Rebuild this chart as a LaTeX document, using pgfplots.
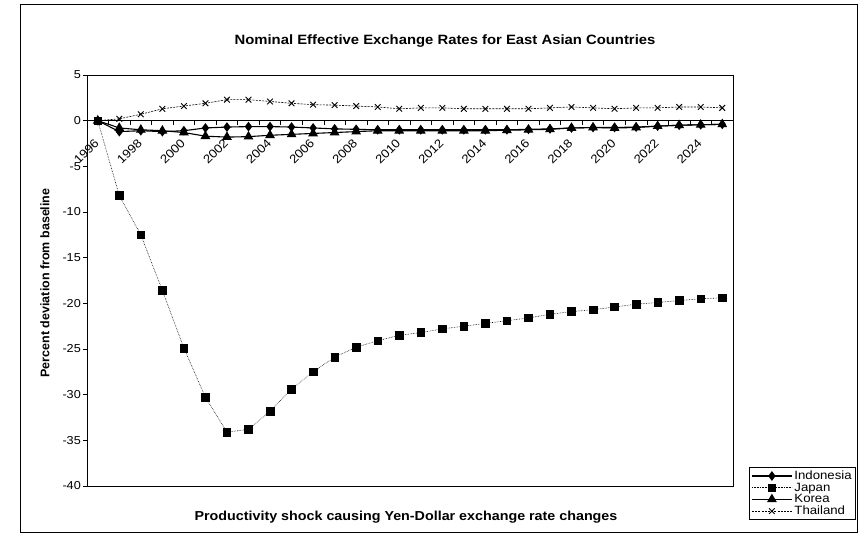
\documentclass[border=0pt]{standalone}
\usepackage{pgfplots}
\pgfplotsset{compat=1.18}
\usepackage{pgfplotstable}
\usepackage{fontspec}
\setmainfont{Liberation Sans}[FakeStretch=1.1]
\newfontfamily\ylfont{Liberation Sans}

\pgfplotstableread{
year indo japan korea thai
1996 0 0 0 0
1997 -1.2 -8.2 -0.8 0.2
1998 -1.1 -12.5 -1.0 0.7
1999 -1.2 -18.6 -1.1 1.3
2000 -1.1 -24.9 -1.3 1.6
2001 -0.8 -30.3 -1.7 1.9
2002 -0.7 -34.1 -1.8 2.3
2003 -0.65 -33.8 -1.75 2.3
2004 -0.65 -31.8 -1.6 2.1
2005 -0.7 -29.4 -1.5 1.9
2006 -0.8 -27.5 -1.4 1.75
2007 -0.9 -25.9 -1.3 1.7
2008 -0.95 -24.8 -1.2 1.6
2009 -1.0 -24.1 -1.1 1.5
2010 -1.0 -23.5 -1.1 1.3
2011 -1.0 -23.2 -1.1 1.4
2012 -1.0 -22.8 -1.1 1.4
2013 -1.0 -22.5 -1.1 1.3
2014 -1.0 -22.2 -1.1 1.3
2015 -1.0 -21.9 -1.05 1.3
2016 -0.95 -21.6 -1.0 1.3
2017 -0.9 -21.2 -0.95 1.4
2018 -0.8 -20.9 -0.8 1.5
2019 -0.75 -20.7 -0.75 1.4
2020 -0.75 -20.4 -0.8 1.3
2021 -0.7 -20.1 -0.75 1.4
2022 -0.6 -19.9 -0.6 1.4
2023 -0.5 -19.7 -0.5 1.5
2024 -0.45 -19.5 -0.45 1.5
2025 -0.4 -19.4 -0.4 1.4
}\data

\begin{document}
\begin{tikzpicture}[x=1pt,y=1pt]
\path (0,0) rectangle (866,534);
\draw[line width=0.8pt] (20,2) rectangle (857,530);
\node[font=\bfseries\fontsize{13.5}{15}\selectfont] at (445,493) {Nominal Effective Exchange Rates for East Asian Countries};
\node[font=\bfseries\fontsize{13}{15}\selectfont] at (406,17) {Productivity shock causing Yen-Dollar exchange rate changes};
\begin{axis}[
  at={(87pt,48pt)}, anchor=south west,
  width=646pt, height=411pt, scale only axis,
  xmin=1995.5, xmax=2025.5, ymin=-40, ymax=5,
  axis x line=middle, axis y line=left,
  axis line style={-, black, line width=0.7pt},
  hide obscured x ticks=false, hide obscured y ticks=false,
  ytick={-40,-35,...,5},
  xtick={1996,1998,...,2024},
  minor xtick={1995.5,1996.5,...,2025.5},
  tick align=outside,
  major tick length=4pt, minor tick length=4pt,
  every major x tick/.append style={draw=none},
  tick style={black, line width=0.6pt},
  /pgf/number format/assume math mode=true,
  /pgf/number format/1000 sep={},
  yticklabel style={font=\fontsize{11.5}{13}\selectfont, inner sep=2pt},
  xticklabel style={font=\fontsize{12}{13}\selectfont, xshift=-4pt, yshift=-13pt, rotate=45, anchor=north east, inner sep=0pt},
  ylabel={Percent deviation from baseline},
  every axis y label/.style={at={(axis description cs:-0.065,0.494)}, rotate=90, anchor=center, font=\ylfont\bfseries\fontsize{12.5}{14}\selectfont},
  legend style={at={(axis description cs:1.1904,-0.0827)}, anchor=south east, draw=black, line width=0.6pt,
    font=\fontsize{12}{13}\selectfont, row sep=-2.2pt, inner xsep=2pt, inner ysep=1.5pt, cells={anchor=west}},
  legend image code/.code={\draw[#1, mark repeat=2, mark phase=2] plot coordinates {(0pt,0pt) (20pt,0pt) (40pt,0pt)};},
  after end axis/.code={\draw[black, line width=0.7pt] (rel axis cs:0,0) rectangle (rel axis cs:1,1);},
]
\addplot[black, line width=1.1pt, mark=diamond*, mark size=4pt, mark options={solid}] table[x=year,y=indo] {\data};
\addlegendentry{Indonesia}
\addplot[black, line width=0.6pt, densely dotted, mark=square*, mark size=3.8pt, mark options={solid}] table[x=year,y=japan] {\data};
\addlegendentry{Japan}
\addplot[black, line width=1.1pt, mark=triangle*, mark size=4.6pt, mark options={solid}] table[x=year,y=korea] {\data};
\addlegendentry{Korea}
\addplot[black, line width=0.6pt, dash pattern=on 2pt off 1.2pt, mark=x, mark size=4pt, mark options={solid, line width=0.9pt}] table[x=year,y=thai] {\data};
\addlegendentry{Thailand}
\end{axis}
\end{tikzpicture}
\end{document}
